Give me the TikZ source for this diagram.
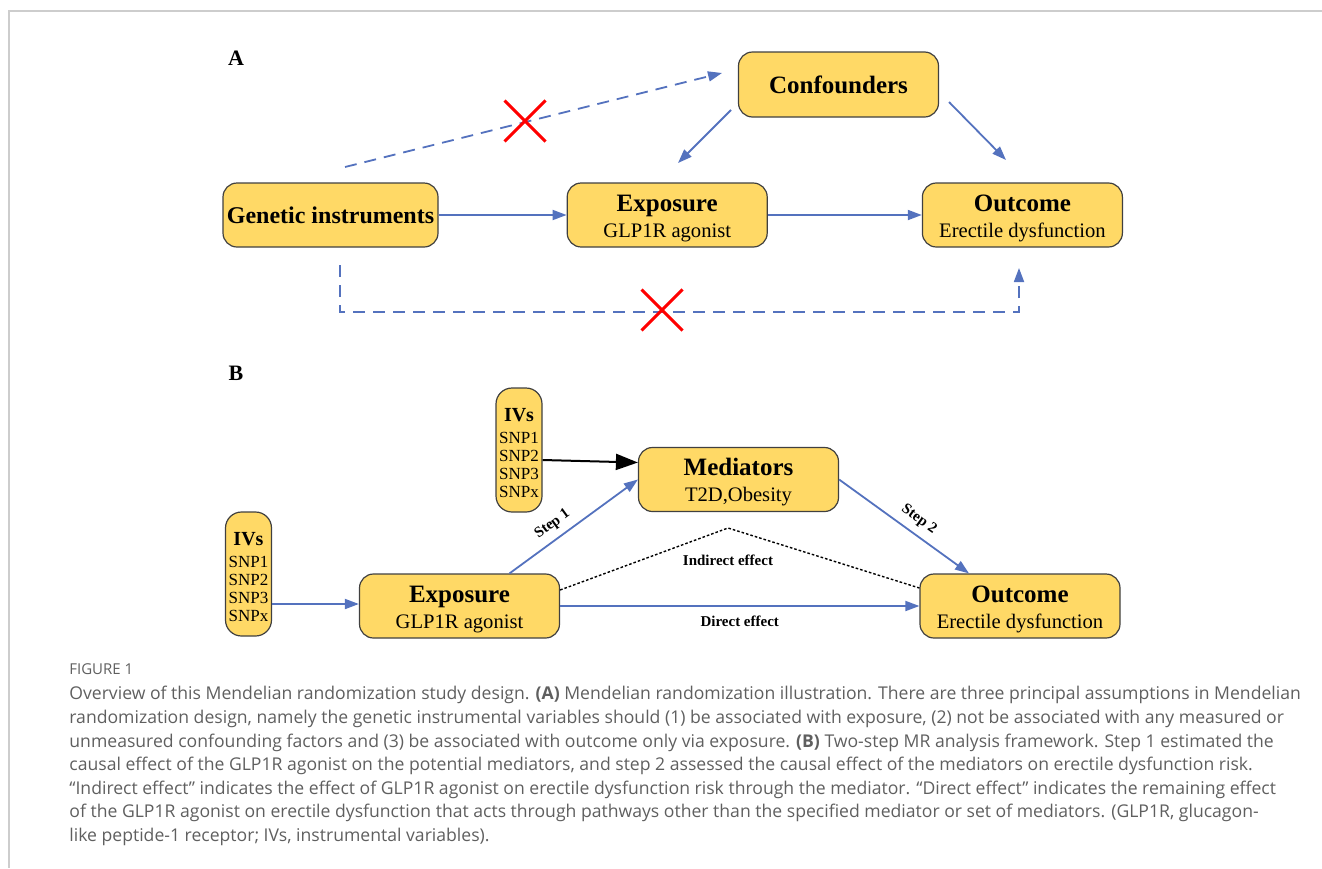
\documentclass[tikz,border=0pt]{standalone}
\usepackage{fontspec}
\setmainfont{Liberation Serif}
\newfontfamily\capfont{Open Sans}
\usepackage{tikz}
\usetikzlibrary{arrows.meta,positioning,calc,shapes.misc}
\definecolor{boxyellow}{RGB}{255,217,102}
\definecolor{arrblue}{RGB}{84,114,190}
\definecolor{captext}{RGB}{95,95,95}
\definecolor{framegray}{RGB}{205,205,205}
\providecommand{\SNPlist}{SNP1\\SNP2\\SNP3\\SNPx}
\providecommand{\headtxt}[1]{{\fontsize{12.5}{13}\selectfont\bfseries\rule{0pt}{11.5pt}#1}}
\providecommand{\ivhead}{{\fontsize{10}{12}\selectfont\bfseries\rule{0pt}{9.5pt}IVs}\\[2pt]}

\begin{document}
\begin{tikzpicture}[x=0.5pt,y=-0.5pt,
  every node/.style={font=\fontsize{10.3}{13}\selectfont},
  box/.style={draw=black!75,line width=0.6pt,rounded corners=7pt,fill=boxyellow,minimum width=100pt,minimum height=32pt,align=center,inner sep=1pt},
  ivbox/.style={box,minimum width=23pt,minimum height=62pt,rounded corners=8pt,font=\fontsize{8.5}{9}\selectfont},
  arr/.style={-{Triangle[length=7pt,width=5pt]},line width=0.9pt,draw=arrblue},
  darr/.style={arr,dash pattern=on 6pt off 4pt},
  dotline/.style={line width=0.7pt,dash pattern=on 1.3pt off 1pt},
  xmark/.style={cross out,draw=red,line width=1.5pt,minimum size=19pt,inner sep=0pt},
  lbl/.style={font=\fontsize{7.5}{9}\selectfont\bfseries},
  panel/.style={font=\fontsize{11}{13}\selectfont\bfseries}]
\useasboundingbox (0,0) rectangle (1322,868);
\draw[framegray,line width=0.8pt] (1322,11) -| (9,868);

% panel A
\node[panel] (labA) at (236,58) {A};
\node[box,minimum width=107.5pt] (gi) at (330.5,215) {{\fontsize{12}{13}\selectfont\bfseries Genetic instruments}};
\node[box,right=64pt of gi] (expA) {\headtxt{Exposure}\\GLP1R agonist};
\node[box,right=77pt of expA] (outA) {\headtxt{Outcome}\\Erectile dysfunction};
\node[box,minimum height=32.5pt] (conf) at (838.5,84.5) {{\fontsize{12.5}{13}\selectfont\bfseries Confounders}};
\draw[arr] (gi) -- (expA);
\draw[arr] (expA) -- (outA);
\coordinate (cfsw) at (731,110);
\coordinate (exnt) at (678,163);
\coordinate (cfse) at (949,102);
\coordinate (ocnt) at (1006,160);
\draw[arr] (cfsw) -- (exnt);
\draw[arr] (cfse) -- (ocnt);
\coordinate (gtop) at (345,167);
\coordinate (cfwest) at (722,73);
\draw[darr] (gtop) -- (cfwest);
\node[xmark] (x1) at (525,121) {};
\coordinate (gbot) at (340,265);
\coordinate (obot) at (1019,268);
\draw[darr] (gbot) -- ++(0,47) -| (obot);
\node[xmark] (x2) at (662,310) {};

% panel B
\node[panel] (labB) at (236,373) {B};
\node[ivbox] (ivT) at (519,450) {\ivhead\SNPlist};
\node[ivbox] (ivL) at (248.5,574) {\ivhead\SNPlist};
\node[box] (med) at (738.5,479.5) {\headtxt{Mediators}\\T2D,Obesity};
\node[box] (expB) at (459.5,606) {\headtxt{Exposure}\\GLP1R agonist};
\node[box] (outB) at (1020,606) {\headtxt{Outcome}\\Erectile dysfunction};
\draw[arr] ([yshift=-15pt]ivL.east) -- ([yshift=-15pt]ivL.east -| expB.west);
\draw[-{Triangle[length=11pt,width=8pt]},line width=1pt] ([yshift=-5pt]ivT.east) -- ([yshift=8.5pt]med.west);
\draw[arr] ([xshift=25pt]expB.north) -- node[lbl,sloped,above,pos=0.4] {Step 1} (med.west);
\draw[arr] (med.east) -- node[lbl,sloped,above,pos=0.55] {Step 2} ([xshift=-25.5pt]outB.north);
\coordinate (apex) at (728,528);
\draw[dotline] ([yshift=8pt]expB.east) -- (apex) -- ([yshift=9pt]outB.west);
\node[lbl] (ind) at (728,560) {Indirect effect};
\draw[arr] (expB.east) -- node[lbl,below=1pt] {Direct effect} (outB.west);

% caption
\node[font=\capfont\fontsize{7.5}{8}\selectfont,text=captext,anchor=west,inner sep=0pt] (fig) at (69,669) {FIGURE 1};
\node[font=\capfont\fontsize{8.8}{11.8}\selectfont,text=captext,anchor=north west,align=left,inner sep=0pt] (cap) at (69,686) {Overview of this Mendelian randomization study design. \textbf{(A)} Mendelian randomization illustration. There are three principal assumptions in Mendelian\\
randomization design, namely the genetic instrumental variables should (1) be associated with exposure, (2) not be associated with any measured or\\
unmeasured confounding factors and (3) be associated with outcome only via exposure. \textbf{(B)} Two-step MR analysis framework. Step 1 estimated the\\
causal effect of the GLP1R agonist on the potential mediators, and step 2 assessed the causal effect of the mediators on erectile dysfunction risk.\\
“Indirect effect” indicates the effect of GLP1R agonist on erectile dysfunction risk through the mediator. “Direct effect” indicates the remaining effect\\
of the GLP1R agonist on erectile dysfunction that acts through pathways other than the specified mediator or set of mediators. (GLP1R, glucagon-\\
like peptide-1 receptor; IVs, instrumental variables).};
\end{tikzpicture}
\end{document}
